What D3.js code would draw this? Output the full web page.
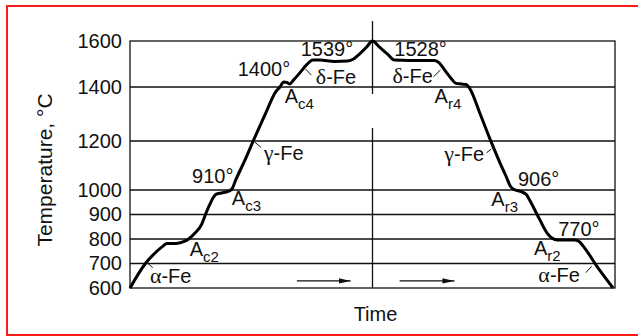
<!DOCTYPE html>
<html>
<head>
<meta charset="utf-8">
<script src="https://cdn.jsdelivr.net/npm/d3@7"></script>
<style>
  body { margin: 0; background: #fff; }
  svg text { font-family: "Liberation Sans", Arial, Helvetica, sans-serif; fill: #111; }
  svg tspan.greek { font-family: "Liberation Serif", "Times New Roman", serif; }
</style>
</head>
<body>
<script>
// heating / cooling curve of pure iron
var time = [0, 3.1, 5.6, 6.8, 7.6, 9.5, 10.9, 12.1, 13.4, 14.8, 15.6, 16.5, 17.1, 17.7,
            18.9, 20.2, 21.0, 21.8, 23.7, 25.5, 28.0, 30.0, 30.9, 31.7, 32.3, 32.9, 33.7,
            35.0, 36.4, 37.7, 39.1, 42.2, 44.9, 46.1, 47.3, 48.8, 50.0,
            51.4, 53.1, 54.5, 57.6, 60.7, 62.8, 63.8, 65.0, 66.3, 67.1, 68.3, 69.3, 70.0,
            72.2, 74.3, 76.3, 77.6, 78.4, 79.2, 80.5, 81.7, 82.5, 84.4, 86.0, 87.0, 88.1,
            91.6, 92.6, 93.6, 96.5, 99.6];
var temp = [600, 698, 751, 771, 782, 782, 788, 800, 824, 861, 902, 943, 967, 982,
            988, 994, 1004, 1041, 1122, 1204, 1304, 1381, 1400, 1422, 1420, 1413, 1430,
            1461, 1496, 1517, 1517, 1511, 1513, 1522, 1543, 1574, 1600,
            1574, 1543, 1517, 1515, 1515, 1515, 1504, 1470, 1435, 1417, 1413, 1411, 1396,
            1300, 1204, 1110, 1053, 1016, 1002, 994, 982, 955, 882, 824, 804, 796,
            796, 790, 767, 682, 600];

var tickTemps = [600, 700, 800, 900, 1000, 1200, 1400, 1600];
var gridTemps = [700, 800, 900, 1000, 1200, 1400];

// annotations: text, subscript, anchor time, anchor temperature (baseline)
var labelText = ["1400°", "1539°", "δ-Fe", "A", "γ-Fe", "910°", "A", "A", "α-Fe",
                 "1528°", "δ-Fe", "A", "γ-Fe", "906°", "A", "770°", "A", "α-Fe"];
var labelSub  = ["", "", "", "c4", "", "", "c3", "c2", "",
                 "", "", "r4", "", "", "r3", "", "r2", ""];
var labelTime = [22.2, 35.2, 38.3, 31.9, 27.6, 12.8, 21.0, 12.3, 4.1,
                 54.5, 54.1, 62.8, 64.8, 80.0, 74.5, 88.3, 83.3, 84.2];
var labelTemp = [1448, 1535, 1413, 1341, 1122, 1029, 939, 731, 620,
                 1535, 1417, 1341, 1118, 1016, 935, 812, 735, 624];

// small leader ticks from labels to the curve [t1, T1, t2, T2]
var leaders = [[3.1, 710, 4.7, 683], [25.7, 1196, 27.0, 1174], [36.2, 1478, 37.4, 1452],
               [62.6, 1445, 64.0, 1474], [73.5, 1152, 74.5, 1167], [94.0, 663, 95.2, 689]];
// time arrows at the bottom [from, to]
var arrows = [[34.4, 45.5], [55.6, 66.9]];

var width = 638, height = 336;
var svg = d3.select("body").append("svg")
    .attr("width", width).attr("height", height);

var x = d3.scaleLinear().domain([0, 100]).range([130, 615]);
var y = d3.scaleLinear().domain([600, 1200, 1400, 1600]).range([288, 141, 87, 41]);

// red frame
svg.append("rect")
    .attr("x", 7).attr("y", 6).attr("width", 640).attr("height", 329)
    .attr("fill", "none").attr("stroke", "#ff1a1a").attr("stroke-width", 2);

svg.append("defs").append("marker")
    .attr("id", "arrowhead")
    .attr("markerUnits", "userSpaceOnUse")
    .attr("markerWidth", 14).attr("markerHeight", 8)
    .attr("refX", 12).attr("refY", 4)
    .attr("orient", "auto")
  .append("path")
    .attr("d", "M0,1.3 L12,4 L0,6.7 Z")
    .attr("fill", "#111");

// grid lines
svg.append("g").selectAll("line")
    .data(gridTemps).enter().append("line")
    .attr("x1", x(0)).attr("x2", x(100))
    .attr("y1", function(d) { return y(d); })
    .attr("y2", function(d) { return y(d); })
    .attr("stroke", "#111").attr("stroke-width", 1.3);

// plot frame
svg.append("rect")
    .attr("x", x(0)).attr("y", y(1600))
    .attr("width", x(100) - x(0)).attr("height", y(600) - y(1600))
    .attr("fill", "none").attr("stroke", "#111").attr("stroke-width", 1.3);

// centre line (split where the labels sit)
svg.append("g").selectAll("line")
    .data([[1687, 1374], [1248, 600]]).enter().append("line")
    .attr("x1", x(50)).attr("x2", x(50))
    .attr("y1", function(d) { return y(d[0]); })
    .attr("y2", function(d) { return y(d[1]); })
    .attr("stroke", "#111").attr("stroke-width", 1.3);

// y axis
var yAxis = d3.axisLeft(y).tickValues(tickTemps).tickFormat(d3.format("d"))
    .tickSize(0).tickPadding(8);
var yg = svg.append("g").attr("transform", "translate(" + x(0) + ",0)").call(yAxis);
yg.select(".domain").remove();
yg.selectAll("text").style("font-size", "20px").attr("fill", "#111");

svg.append("text")
    .attr("transform", "translate(52," + 170 + ") rotate(-90)")
    .attr("text-anchor", "middle")
    .style("font-size", "21px")
    .text("Temperature, °C");

svg.append("text")
    .attr("x", x(50) + 3).attr("y", 321)
    .attr("text-anchor", "middle")
    .style("font-size", "20px")
    .text("Time");

// the curve
var pts = d3.zip(time, temp);
svg.append("path")
    .datum(pts)
    .attr("fill", "none")
    .attr("stroke", "#000")
    .attr("stroke-width", 3)
    .attr("stroke-linejoin", "round")
    .attr("d", d3.line()
        .x(function(d) { return x(d[0]); })
        .y(function(d) { return y(d[1]); })
        .curve(d3.curveMonotoneX));

// leaders
svg.append("g").selectAll("line")
    .data(leaders).enter().append("line")
    .attr("x1", function(d) { return x(d[0]); })
    .attr("y1", function(d) { return y(d[1]); })
    .attr("x2", function(d) { return x(d[2]); })
    .attr("y2", function(d) { return y(d[3]); })
    .attr("stroke", "#111").attr("stroke-width", 1);

// arrows
svg.append("g").selectAll("line")
    .data(arrows).enter().append("line")
    .attr("x1", function(d) { return x(d[0]); })
    .attr("x2", function(d) { return x(d[1]); })
    .attr("y1", y(629)).attr("y2", y(629))
    .attr("stroke", "#111").attr("stroke-width", 1.3)
    .attr("marker-end", "url(#arrowhead)");

// labels (greek letter set in a serif face, like the original)
var labels = svg.append("g").selectAll("text")
    .data(d3.range(labelText.length)).enter().append("text")
    .attr("x", function(i) { return x(labelTime[i]); })
    .attr("y", function(i) { return y(labelTemp[i]); })
    .style("font-size", "20px");
labels.each(function(i) {
    var t = d3.select(this), s = labelText[i];
    if (/^[αγδ]/.test(s)) {
        t.append("tspan").attr("class", "greek").style("font-size", "22px").text(s[0]);
        t.append("tspan").text(s.slice(1));
    } else {
        t.append("tspan").text(s);
    }
});
labels.filter(function(i) { return labelSub[i] !== ""; })
  .append("tspan")
    .attr("dy", 6)
    .style("font-size", "15px")
    .text(function(i) { return labelSub[i]; });
</script>
</body>
</html>
